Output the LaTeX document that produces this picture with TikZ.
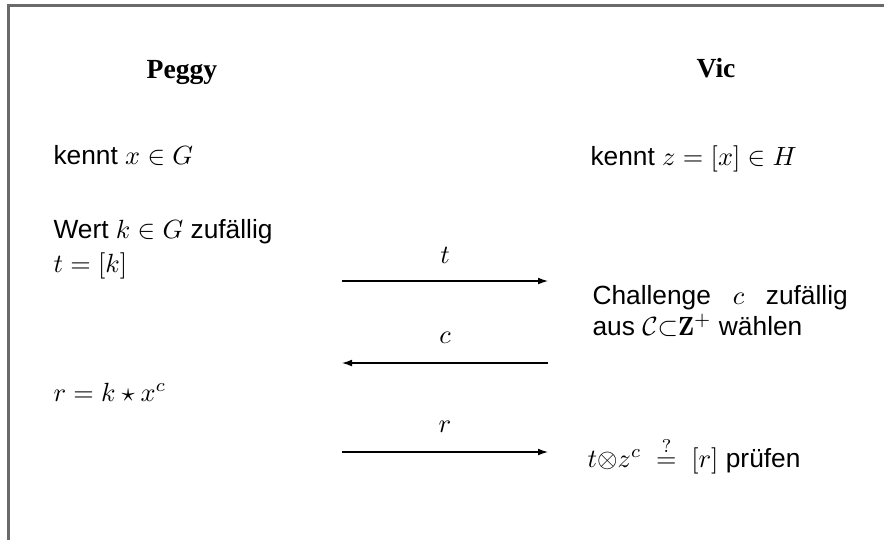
\documentclass[tikz,border=0pt]{standalone}
\usepackage{fontspec}
\setsansfont{Liberation Sans}
\newfontfamily\namefont{Liberation Serif}
\usetikzlibrary{arrows.meta}
\definecolor{framegray}{HTML}{6A6A6A}
\begin{document}
\begin{tikzpicture}[x=0.38pt,y=-0.38pt,
  txt/.style={anchor=base west, inner sep=0pt, font=\sffamily},
  who/.style={anchor=base, inner sep=0pt, font=\namefont\bfseries\fontsize{10.5}{12.6}\selectfont},
  lbl/.style={anchor=base, inner sep=0pt},
  msg/.style={-{Latex[length=3.8pt,width=2.6pt]}, line width=0.45pt}]
\useasboundingbox (0,0) rectangle (884,540);
\draw[framegray, line width=0.8pt] (8.5,540) -- (8.5,5.5) -- (884,5.5);
% participants
\node[who] (peggy) at (182,78) {Peggy};
\node[who] (vic) at (716,77) {Vic};
% Peggy side
\node[txt] (pk) at (53,164) {kennt $x\in G$};
\node[txt] (pw) at (53,238) {Wert $k\in G$ zufällig};
\node[txt] (pt) at (53,272) {$t=[k]$};
\node[txt] (pr) at (53,401) {$r=k\star x^c$};
% Vic side
\node[txt] (vk) at (590,165) {kennt $z=[x]\in H$};
\node[txt] (vc1) at (592,304) {\hbox to 97pt{Challenge\hfil$c$\hfil zufällig}};
\node[txt] (vc2) at (592,335) {aus $\mathcal{C}{\subset}\mathbf{Z}^+$ wählen};
\node[txt] (vp) at (587,467) {$t{\otimes}z^c\ \stackrel{?}{=}\ [r]$ prüfen};
% messages
\coordinate (a1) at (342,281);
\coordinate (a2) at (548,281);
\coordinate (b1) at (548,363);
\coordinate (b2) at (342,363);
\coordinate (c1) at (342,452);
\coordinate (c2) at (548,452);
\draw[msg] (a1) -- (a2);
\draw[msg] (b1) -- (b2);
\draw[msg] (c1) -- (c2);
\node[lbl] (lt) at (445,263) {$t$};
\node[lbl] (lc) at (445,343) {$c$};
\node[lbl] (lr) at (445,432) {$r$};
\end{tikzpicture}
\end{document}
